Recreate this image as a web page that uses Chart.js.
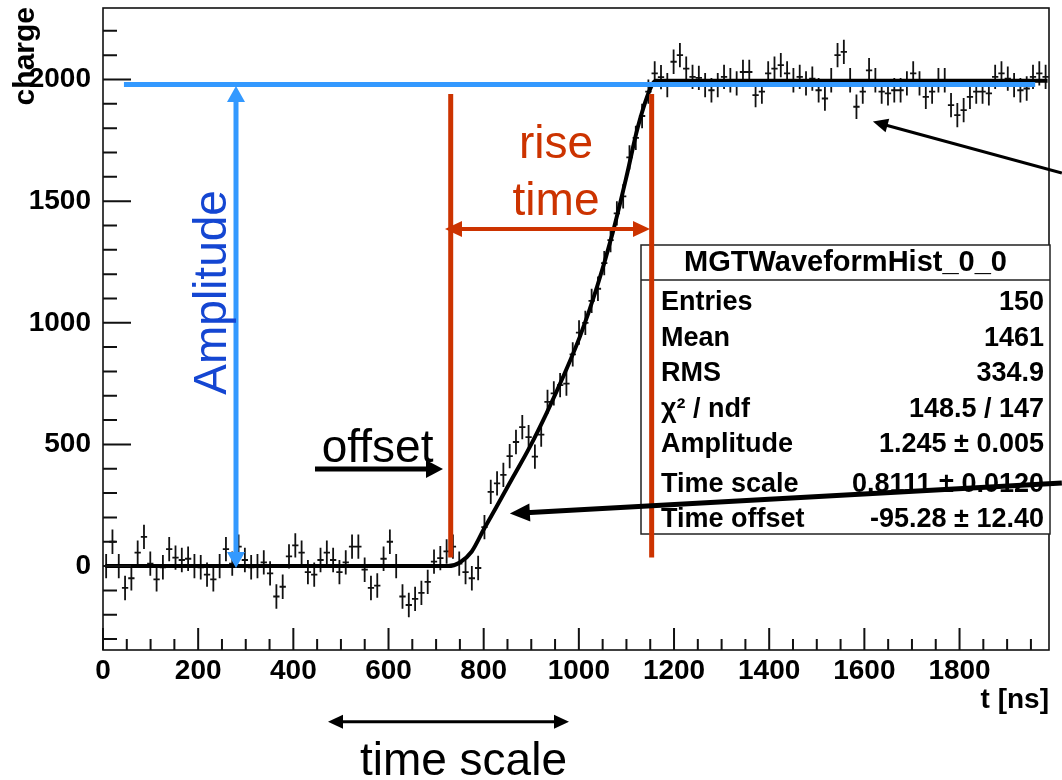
<!DOCTYPE html>
<html>
<head>
<meta charset="utf-8">
<script src="https://cdn.jsdelivr.net/npm/chart.js@4/dist/chart.umd.min.js"></script>
<style>
  html, body { margin: 0; padding: 0; background: #fff; }
  canvas { display: block; }
</style>
</head>
<body>
<canvas id="waveform" width="1062" height="780"></canvas>
<script>
// histogram: 150 bins over 0..1988 ns
const binWidth = 13.25;
const counts = [
    0, 100, 0, -90, -50, 55, 120, 10, -55, -5,
    70, 35, 25, 30, 0, -5, -35, -55, 0, 70,
    10, 80, 25, -5, 0, 15, -30, -125, -85, 40,
    85, 55, -25, -35, 25, 55, 25, -25, 15, 80,
    80, -15, -90, -80, 30, 100, 0, -125, -160, -135,
    -110, -65, 18, 33, 60, 80, 10, -25, -50, -8,
    160, 305, 340, 375, 452, 510, 571, 530, 450, 540,
    675, 710, 744, 750, 870, 960, 1000, 1090, 1140, 1245,
    1340, 1450, 1520, 1680, 1760, 1850, 1950, 2025, 2010, 1977,
    2073, 2100, 2045, 2011, 2007, 1977, 1956, 1977, 2011, 1997,
    1984, 2031, 2031, 1936, 1950, 2025, 2045, 2059, 2025, 1997,
    2011, 1984, 2004, 1956, 1922, 1997, 2100, 2114, 1997, 1888,
    1950, 2038, 1997, 1950, 1943, 1956, 1956, 1984, 2025, 1984,
    1929, 1950, 1997, 1997, 1895, 1854, 1874, 1929, 1950, 1950,
    1943, 2011, 2025, 2004, 1977, 1956, 1963, 2011, 2025, 2011
];
const countErr = 50;

// fitted pulse shape
const fitT = [5, 725, 750, 775, 800, 827, 862, 897, 932, 967, 1002, 1037, 1071, 1100, 1124, 1153, 1162, 1985];
const fitV = [0, 0, 15, 60, 150, 244, 367, 490, 628, 778, 942, 1140, 1369, 1600, 1805, 1975, 1995, 1995];

// axes
const xTicks = [0, 200, 400, 600, 800, 1000, 1200, 1400, 1600, 1800];
const yTicks = [0, 500, 1000, 1500, 2000];
const xMinorStep = 50;
const yMinorStep = 100;

// stats box
const statTitle = "MGTWaveformHist_0_0";
const statLabels = ["Entries", "Mean", "RMS", "\u03c7\u00b2 / ndf", "Amplitude", "Time scale", "Time offset"];
const statValues = ["150", "1461", "334.9", "148.5 / 147", "1.245 \u00b1 0.005", "0.8111 \u00b1 0.0120", "-95.28 \u00b1 12.40"];

const BLUE = '#3399ff';
const BLUE_TEXT = '#1446d2';
const RED = '#cc3300';
const FONT = '"Liberation Sans", Arial, Helvetica, sans-serif';

const binCentres = counts.map((_, i) => (i + 0.5) * binWidth);

// ---- drawing helpers ----
const arrowHead = (ctx, x, y, a, len, half) => {
    ctx.beginPath();
    ctx.moveTo(x, y);
    ctx.lineTo(x - len * Math.cos(a) + half * Math.sin(a), y - len * Math.sin(a) - half * Math.cos(a));
    ctx.lineTo(x - len * Math.cos(a) - half * Math.sin(a), y - len * Math.sin(a) + half * Math.cos(a));
    ctx.closePath();
    ctx.fill();
};

const arrow = (ctx, x1, y1, x2, y2, o) => {
    const a = Math.atan2(y2 - y1, x2 - x1);
    const cut = o.len * 0.8;
    ctx.save();
    ctx.strokeStyle = ctx.fillStyle = o.color;
    ctx.lineWidth = o.width;
    ctx.beginPath();
    ctx.moveTo(o.both ? x1 + cut * Math.cos(a) : x1, o.both ? y1 + cut * Math.sin(a) : y1);
    ctx.lineTo(x2 - cut * Math.cos(a), y2 - cut * Math.sin(a));
    ctx.stroke();
    arrowHead(ctx, x2, y2, a, o.len, o.half);
    if (o.both) arrowHead(ctx, x1, y1, a + Math.PI, o.len, o.half);
    ctx.restore();
};

const line = (ctx, x1, y1, x2, y2, color, width) => {
    ctx.save();
    ctx.strokeStyle = color;
    ctx.lineWidth = width;
    ctx.beginPath();
    ctx.moveTo(x1, y1);
    ctx.lineTo(x2, y2);
    ctx.stroke();
    ctx.restore();
};

// error bars for the histogram points
const errorBars = {
    id: 'errorBars',
    beforeDatasetsDraw(chart) {
        const { ctx, chartArea, scales: { x, y } } = chart;
        ctx.save();
        ctx.beginPath();
        ctx.rect(chartArea.left, chartArea.top, chartArea.width, chartArea.height);
        ctx.clip();
        ctx.strokeStyle = '#111';
        ctx.lineWidth = 1.8;
        ctx.beginPath();
        binCentres.forEach((t, i) => {
            const px = x.getPixelForValue(t);
            const py = y.getPixelForValue(counts[i]);
            ctx.moveTo(px, y.getPixelForValue(counts[i] - countErr));
            ctx.lineTo(px, y.getPixelForValue(counts[i] + countErr));
            ctx.moveTo(x.getPixelForValue(t - binWidth / 2), py);
            ctx.lineTo(x.getPixelForValue(t + binWidth / 2), py);
        });
        ctx.stroke();
        ctx.restore();
    }
};

// ROOT-like frame with inward ticks, axis titles
const rootFrame = {
    id: 'rootFrame',
    afterDatasetsDraw(chart) {
        const { ctx, chartArea: a, scales: { x, y } } = chart;
        ctx.save();
        ctx.strokeStyle = '#111';
        ctx.lineWidth = 1.6;
        ctx.strokeRect(a.left, a.top, a.width, a.height);
        ctx.lineWidth = 2;
        ctx.beginPath();
        for (let t = 0; t <= x.max; t += xMinorStep) {
            const px = x.getPixelForValue(t);
            const len = xTicks.includes(t) ? 22 : 11;
            ctx.moveTo(px, a.bottom);
            ctx.lineTo(px, a.bottom - len);
        }
        for (let v = Math.ceil(y.min / yMinorStep) * yMinorStep; v <= y.max; v += yMinorStep) {
            const py = y.getPixelForValue(v);
            const len = yTicks.includes(v) ? 28 : 14;
            ctx.moveTo(a.left, py);
            ctx.lineTo(a.left + len, py);
        }
        ctx.stroke();

        ctx.fillStyle = '#000';
        ctx.font = 'bold 28px ' + FONT;
        ctx.textAlign = 'right';
        ctx.textBaseline = 'alphabetic';
        ctx.fillText('t [ns]', a.right, 708);

        ctx.translate(34, 7);
        ctx.rotate(-Math.PI / 2);
        ctx.font = 'bold 30px ' + FONT;
        ctx.fillText('charge', 0, 0);
        ctx.restore();
    }
};

// statistics box, top-right
const statsBox = {
    id: 'statsBox',
    afterDatasetsDraw(chart) {
        const { ctx } = chart;
        const left = 641, top = 245, right = 1050, bottom = 534, titleLine = 280;
        ctx.save();
        ctx.fillStyle = '#fff';
        ctx.fillRect(left, top, right - left, bottom - top);
        ctx.strokeStyle = '#222';
        ctx.lineWidth = 1.5;
        ctx.strokeRect(left, top, right - left, bottom - top);
        ctx.beginPath();
        ctx.moveTo(left, titleLine);
        ctx.lineTo(right, titleLine);
        ctx.stroke();

        ctx.fillStyle = '#000';
        ctx.font = 'bold 29px ' + FONT;
        ctx.textAlign = 'center';
        ctx.fillText(statTitle, (left + right) / 2, 271);

        const rowBase = [310, 346, 381, 417, 452, 492, 527];
        ctx.font = 'bold 27px ' + FONT;
        statLabels.forEach((lab, i) => {
            ctx.textAlign = 'left';
            ctx.fillText(lab, 661, rowBase[i]);
            ctx.textAlign = 'right';
            ctx.fillText(statValues[i], 1044, rowBase[i]);
        });
        ctx.restore();
    }
};

// hand-drawn annotations, placed in data coordinates
const annot = {
    ampLine: { t0: 44, t1: 1959, v: 1980 },
    ampArrow: { t: 279.5, v0: -8, v1: 1973 },
    ampText: { t: 231, v: 1125 },
    riseLines: { t: [730.7, 1153], v0: 35, v1: 1940 },
    riseArrow: { t0: 718.7, t1: 1149.5, v: 1385.6 },
    riseText: { t: 952, v: [1677, 1443] },
    offsetText: { t: 577, v: 428 },
    offsetArrow: { t0: 445.5, t1: 714.5, v: 399 },
    fitArrow: { t0: 2015, v0: 341, t1: 855, v1: 216 },
    dataArrow: { t0: 2015, v0: 1616, t1: 1618, v1: 1827 },
    scaleArrow: { t0: 472.8, t1: 979.3, v: -640 },
    scaleText: { t: 757.5, v: -859 }
};

const annotations = {
    id: 'annotations',
    afterDraw(chart) {
        const { ctx, scales: { x, y } } = chart;
        const X = t => x.getPixelForValue(t);
        const Y = v => y.getPixelForValue(v);
        ctx.save();

        // rise-time markers
        annot.riseLines.t.forEach(t => line(ctx, X(t), Y(annot.riseLines.v1), X(t), Y(annot.riseLines.v0), RED, 5));
        arrow(ctx, X(annot.riseArrow.t0), Y(annot.riseArrow.v), X(annot.riseArrow.t1), Y(annot.riseArrow.v),
            { color: RED, width: 4, len: 17, half: 8, both: true });
        ctx.fillStyle = RED;
        ctx.font = '46px ' + FONT;
        ctx.textAlign = 'center';
        ctx.fillText('rise', X(annot.riseText.t), Y(annot.riseText.v[0]));
        ctx.fillText('time', X(annot.riseText.t), Y(annot.riseText.v[1]));

        // amplitude
        line(ctx, X(annot.ampLine.t0), Y(annot.ampLine.v), X(annot.ampLine.t1), Y(annot.ampLine.v), BLUE, 5);
        arrow(ctx, X(annot.ampArrow.t), Y(annot.ampArrow.v0), X(annot.ampArrow.t), Y(annot.ampArrow.v1),
            { color: BLUE, width: 5, len: 16, half: 9, both: true });
        ctx.save();
        ctx.translate(X(annot.ampText.t), Y(annot.ampText.v));
        ctx.rotate(-Math.PI / 2);
        ctx.fillStyle = BLUE_TEXT;
        ctx.textBaseline = 'middle';
        ctx.fillText('Amplitude', 0, 0);
        ctx.restore();

        // offset
        ctx.fillStyle = '#000';
        ctx.fillText('offset', X(annot.offsetText.t), Y(annot.offsetText.v));
        arrow(ctx, X(annot.offsetArrow.t0), Y(annot.offsetArrow.v), X(annot.offsetArrow.t1), Y(annot.offsetArrow.v),
            { color: '#000', width: 5, len: 17, half: 9 });

        // pointers to the fit and to the data
        arrow(ctx, X(annot.fitArrow.t0), Y(annot.fitArrow.v0), X(annot.fitArrow.t1), Y(annot.fitArrow.v1),
            { color: '#000', width: 5, len: 20, half: 9 });
        arrow(ctx, X(annot.dataArrow.t0), Y(annot.dataArrow.v0), X(annot.dataArrow.t1), Y(annot.dataArrow.v1),
            { color: '#000', width: 3, len: 15, half: 7 });

        // time scale
        arrow(ctx, X(annot.scaleArrow.t0), Y(annot.scaleArrow.v), X(annot.scaleArrow.t1), Y(annot.scaleArrow.v),
            { color: '#000', width: 3, len: 15, half: 7, both: true });
        ctx.fillText('time scale', X(annot.scaleText.t), Y(annot.scaleText.v));

        ctx.restore();
    }
};

const tickFont = { family: FONT, size: 28, weight: 'bold' };
const noPad = s => { s.paddingTop = 0; s.paddingBottom = 0; s.paddingLeft = 0; s.paddingRight = 0; };

new Chart(document.getElementById('waveform'), {
    type: 'scatter',
    data: {
        datasets: [
            {
                label: 'data',
                data: binCentres.map((t, i) => ({ x: t, y: counts[i] })),
                pointRadius: 0
            },
            {
                type: 'line',
                label: 'fit',
                data: fitT.map((t, i) => ({ x: t, y: fitV[i] })),
                borderColor: '#000',
                borderWidth: 4,
                pointRadius: 0,
                fill: false,
                cubicInterpolationMode: 'monotone'
            }
        ]
    },
    options: {
        responsive: false,
        animation: false,
        layout: { padding: { top: 8, right: 13, left: 0, bottom: 0 } },
        plugins: { legend: { display: false }, tooltip: { enabled: false } },
        scales: {
            x: {
                type: 'linear',
                min: 0,
                max: 1988,
                grid: { display: false, drawTicks: false },
                border: { display: false },
                afterBuildTicks: s => { s.ticks = xTicks.map(v => ({ value: v })); },
                afterFit: s => { s.height = 130; noPad(s); },
                ticks: { font: tickFont, color: '#000', padding: 4, maxRotation: 0, autoSkip: false, callback: v => String(v) }
            },
            y: {
                type: 'linear',
                min: -345,
                max: 2294,
                grid: { display: false, drawTicks: false },
                border: { display: false },
                afterBuildTicks: s => { s.ticks = yTicks.map(v => ({ value: v })); },
                afterFit: s => { s.width = 103; noPad(s); },
                ticks: { font: tickFont, color: '#000', padding: 12, autoSkip: false, callback: v => String(v) }
            }
        }
    },
    plugins: [errorBars, rootFrame, statsBox, annotations]
});
</script>
</body>
</html>
